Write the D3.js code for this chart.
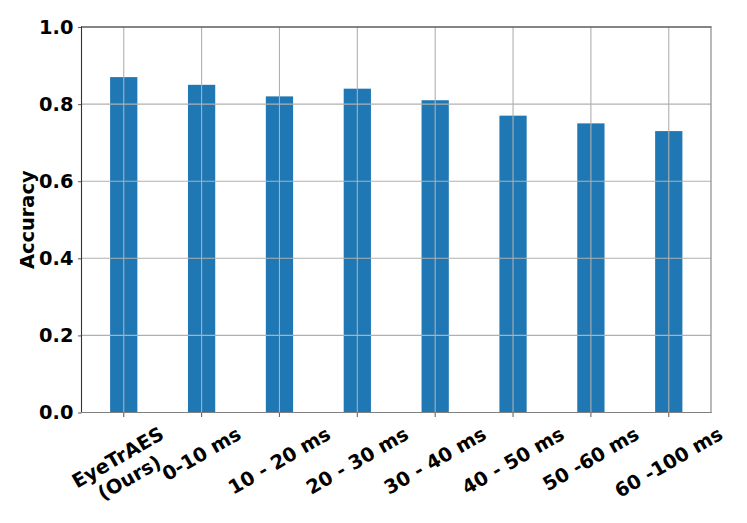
<!DOCTYPE html>
<html>
<head>
<meta charset="utf-8">
<script src="https://cdn.jsdelivr.net/npm/d3@7"></script>
<style>
	body { margin: 0; background: #fff; }
	svg { display: block; }
	text { font-family: "DejaVu Sans", sans-serif; font-weight: bold; fill: #000; }
</style>
</head>
<body>
<svg id="chart" width="747" height="523"></svg>
<script>
// --- data ---
var categories = ["EyeTrAES\n(Ours)", "0-10 ms", "10 - 20 ms", "20 - 30 ms", "30 - 40 ms", "40 - 50 ms", "50 -60 ms", "60 -100 ms"];
var accuracy = [0.87, 0.85, 0.82, 0.84, 0.81, 0.77, 0.75, 0.73];
var yTicks = [0.0, 0.2, 0.4, 0.6, 0.8, 1.0];

var plot = { left: 81.5, top: 27, right: 711, bottom: 412.5 };
var barWidth = 0.35;
var fontSize = 19.4;
var tickColor = "#666";

var svg = d3.select("#chart");

// matplotlib style x limits: bars plus 5% margin
var span = (categories.length - 1) + barWidth;
var margin = 0.05 * span;
var x = d3.scaleLinear()
	.domain([-barWidth / 2 - margin, categories.length - 1 + barWidth / 2 + margin])
	.range([plot.left, plot.right]);

var y = d3.scaleLinear()
	.domain([0, 1])
	.range([plot.bottom, plot.top]);

// bars
svg.append("g")
	.selectAll("rect")
	.data(accuracy)
	.enter()
	.append("rect")
	.attr("x", function(d, i) { return x(i - barWidth / 2); })
	.attr("y", function(d) { return y(d); })
	.attr("width", function() { return x(barWidth) - x(0); })
	.attr("height", function(d) { return y(0) - y(d); })
	.attr("fill", "#1f77b4");

// grid drawn above the bars
var grid = svg.append("g").attr("stroke", "#b0b0b0").attr("stroke-width", 1.1);
grid.selectAll(".vgrid")
	.data(categories)
	.enter()
	.append("line")
	.attr("class", "vgrid")
	.attr("x1", function(d, i) { return x(i); })
	.attr("x2", function(d, i) { return x(i); })
	.attr("y1", plot.top)
	.attr("y2", plot.bottom);
grid.selectAll(".hgrid")
	.data(yTicks)
	.enter()
	.append("line")
	.attr("class", "hgrid")
	.attr("x1", plot.left)
	.attr("x2", plot.right)
	.attr("y1", function(d) { return y(d); })
	.attr("y2", function(d) { return y(d); });

// y axis
var yAxis = svg.append("g")
	.attr("transform", "translate(" + plot.left + ",0)")
	.call(d3.axisLeft(y).tickValues(yTicks).tickFormat(d3.format(".1f")).tickSize(3.5).tickPadding(4.6));
yAxis.select(".domain").remove();
yAxis.selectAll("line").attr("stroke", tickColor).attr("stroke-width", 1.1);
yAxis.selectAll("text")
	.style("font-size", fontSize + "px")
	.style("font-family", "DejaVu Sans")
	.style("font-weight", "bold")
	.attr("fill", "#000");

// x ticks
svg.append("g")
	.selectAll("line")
	.data(categories)
	.enter()
	.append("line")
	.attr("x1", function(d, i) { return x(i); })
	.attr("x2", function(d, i) { return x(i); })
	.attr("y1", plot.bottom)
	.attr("y2", plot.bottom + 4.5)
	.attr("stroke", tickColor)
	.attr("stroke-width", 1.1);

// spines
var spines = [
	{ x1: plot.left, y1: plot.top, x2: plot.left, y2: plot.bottom, c: "#333" },
	{ x1: plot.left, y1: plot.top, x2: plot.right, y2: plot.top, c: "#333" },
	{ x1: plot.right, y1: plot.top, x2: plot.right, y2: plot.bottom, c: "#808080" },
	{ x1: plot.left, y1: plot.bottom, x2: plot.right, y2: plot.bottom, c: "#808080" }
];
svg.append("g")
	.selectAll("line")
	.data(spines)
	.enter()
	.append("line")
	.attr("x1", function(d) { return d.x1; })
	.attr("y1", function(d) { return d.y1; })
	.attr("x2", function(d) { return d.x2; })
	.attr("y2", function(d) { return d.y2; })
	.attr("stroke", function(d) { return d.c; })
	.attr("stroke-width", 1.1)
	.attr("stroke-linecap", "square");

// rotated x labels, centred on tick with bbox top just below the tick
var angle = 30 * Math.PI / 180;
var labelTop = plot.bottom + 4.9 + 4.9;
var lineHeight = fontSize * 1.2;

categories.forEach(function(label, i) {
	var g = svg.append("g");
	var t = g.append("text")
		.attr("text-anchor", "middle")
		.style("font-size", fontSize + "px");
	label.split("\n").forEach(function(line, k) {
		t.append("tspan")
			.attr("x", 0)
			.attr("dy", k === 0 ? 0 : lineHeight)
			.text(line);
	});
	var bb = t.node().getBBox();
	t.attr("transform", "translate(0," + (-(bb.y + bb.height / 2)) + ")");
	var rotH = bb.width * Math.sin(angle) + bb.height * Math.cos(angle);
	g.attr("transform", "translate(" + x(i) + "," + (labelTop + rotH / 2) + ") rotate(-30)");
});

// y label
svg.append("text")
	.attr("transform", "translate(34," + ((plot.top + plot.bottom) / 2) + ") rotate(-90)")
	.attr("text-anchor", "middle")
	.style("font-size", fontSize + "px")
	.text("Accuracy");
</script>
</body>
</html>
